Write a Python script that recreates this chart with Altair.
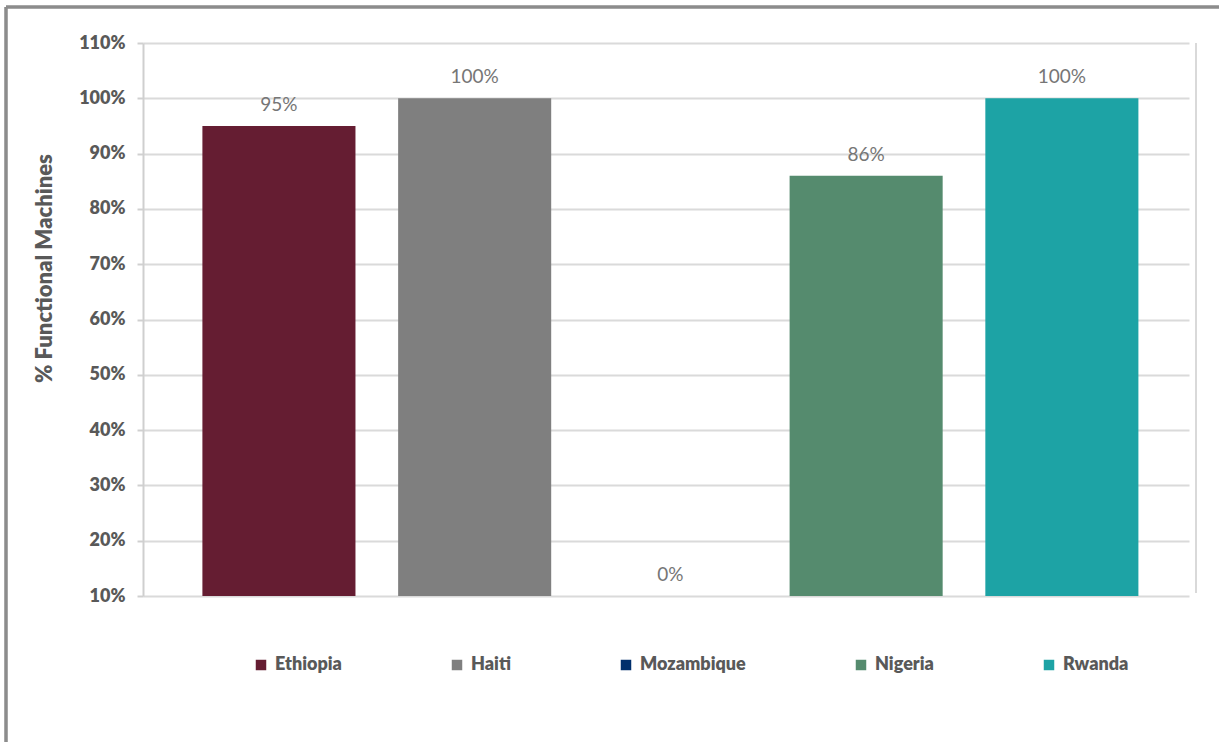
import altair as alt
import pandas as pd

countries = ["Ethiopia", "Haiti", "Mozambique", "Nigeria", "Rwanda"]
values = [95, 100, 0, 86, 100]
colors = ["#651D32", "#7F7F7F", "#002F6C", "#558B6E", "#1DA3A5"]
y_ticks = [10, 20, 30, 40, 50, 60, 70, 80, 90, 100, 110]

df = pd.DataFrame({"country": countries, "value": values})
df["label"] = [f"{v}%" for v in values]

FONT = "Lato"
W, H = 1046, 553

x_enc = alt.X("country:N", sort=countries, axis=None,
              scale=alt.Scale(paddingInner=0.218, paddingOuter=0.281, align=0.54))
y_scale = alt.Scale(domain=[10, 110], nice=False, zero=False, clamp=True)

bars = alt.Chart(df).mark_bar().encode(
    x=x_enc,
    y=alt.Y("value:Q", scale=y_scale,
            axis=alt.Axis(values=y_ticks, labelExpr="datum.value + '%'",
                          title="% Functional Machines",
                          titleFont=FONT, titleFontSize=22, titleFontWeight=800,
                          titleColor="#595959", titleX=-99, titleY=225,
                          titleBaseline="middle", titleAngle=-90,
                          labelFont=FONT, labelFontSize=18, labelFontWeight=800,
                          labelColor="#595959", labelPadding=12,
                          tickSize=6, tickColor="#d0d0d0", tickWidth=2,
                          domainColor="#cfcfcf", domainWidth=2,
                          gridColor="#dadada", gridWidth=2)),
    y2=alt.datum(10),
    color=alt.Color("country:N", sort=countries,
                    scale=alt.Scale(domain=countries, range=colors),
                    legend=alt.Legend(title=None, orient="none", direction="horizontal",
                                      columns=5, legendX=109, legendY=613,
                                      symbolType="square", symbolSize=110,
                                      symbolStrokeWidth=0, labelOffset=5,
                                      columnPadding=106, padding=0,
                                      labelFont=FONT, labelFontSize=18,
                                      labelFontWeight=800, labelColor="#595959")),
)

labels = alt.Chart(df).mark_text(
    font=FONT, fontSize=19, color="#767676", baseline="alphabetic", dy=-15
).encode(
    x=x_enc,
    y=alt.Y("value:Q", scale=y_scale),
    text="label:N",
)

right_line = alt.Chart(df).mark_rule(color="#d9d9d9", strokeWidth=2).encode(
    x=alt.value(W + 7), y=alt.value(0), y2=alt.value(H - 3)
)
frame_left = alt.Chart(df).mark_rule(color="#8c8c8c", strokeWidth=2.5).encode(
    x=alt.value(-137), y=alt.value(-36), y2=alt.value(720)
)
frame_top = alt.Chart(df).mark_rule(color="#8c8c8c", strokeWidth=2.5).encode(
    x=alt.value(-137), x2=alt.value(1100), y=alt.value(-36)
)

chart = alt.layer(bars, labels, right_line, frame_left, frame_top).properties(
    width=W, height=H,
    autosize=alt.AutoSizeParams(type="none"),
    padding={"left": 143, "top": 43, "right": 30, "bottom": 146},
    background="white",
).configure_view(stroke=None)

chart.save("out.html", embed_options={"renderer": "svg", "actions": False})
